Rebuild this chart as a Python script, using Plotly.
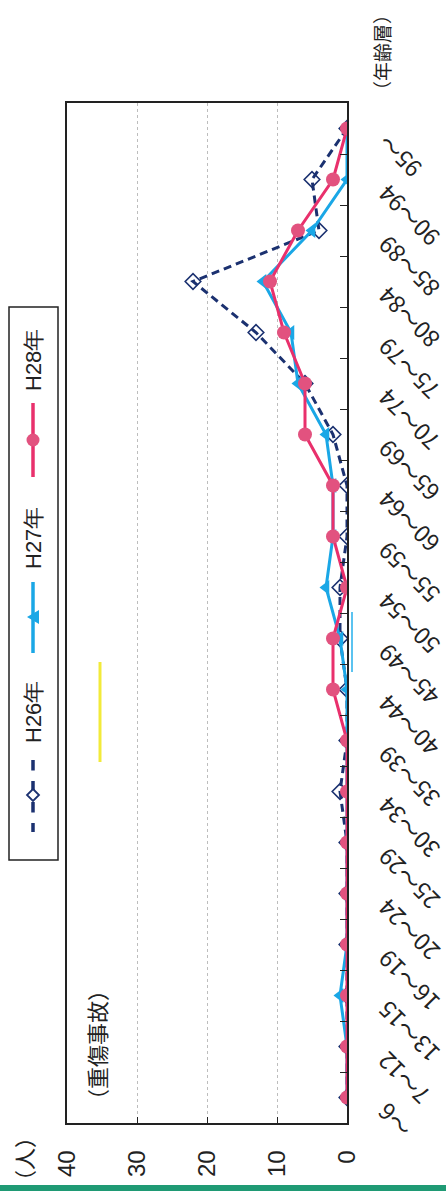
import plotly.graph_objects as go

# ---------------- data ----------------
categories = ["～6", "7～12", "13～15", "16～19", "20～24", "25～29", "30～34",
              "35～39", "40～44", "45～49", "50～54", "55～59", "60～64",
              "65～69", "70～74", "75～79", "80～84", "85～89", "90～94", "95～"]
h26 = [0, 0, 0, 0, 0, 0, 1, 0, 0, 1, 1, 0, 0, 2, 6, 13, 22, 4, 5, 0]
h27 = [0, 0, 1, 0, 0, 0, 0, 0, 0, 1, 3, 2, 2, 3, 7, 8, 12, 5, 0, 0]
h28 = [0, 0, 0, 0, 0, 0, 0, 0, 2, 2, 0, 2, 2, 6, 6, 9, 11, 7, 2, 0]
series_names = ["H26年", "H27年", "H28年"]
value_ticks = [0, 10, 20, 30, 40]

# ---------------- layout geometry ----------------
W, H = 446, 1191
L, R, T, B = 67, 347, 103, 1123   # plot area in px

def px(x):
    return (x - L) / (R - L)

def py(y):
    return (B - y) / (B - T)

NAVY = "#1B3170"
CYAN = "#1AA7E6"
PINK = "#E9306C"
PINK_M = "#E2527F"
JP = "Noto Sans CJK JP, Liberation Sans, sans-serif"
NUM = "Liberation Sans, Arial, sans-serif"

fig = go.Figure()
fig.add_trace(go.Scatter(
    x=h26, y=categories, mode="lines+markers", name=series_names[0],
    line=dict(color=NAVY, width=3, dash="8px,5px"),
    marker=dict(symbol="diamond-open", size=12, color=NAVY, line=dict(width=1.6, color=NAVY)),
    showlegend=False))
fig.add_trace(go.Scatter(
    x=h27, y=categories, mode="lines+markers", name=series_names[1],
    line=dict(color=CYAN, width=3),
    marker=dict(symbol="triangle-left", size=13, color=CYAN),
    showlegend=False))
fig.add_trace(go.Scatter(
    x=h28, y=categories, mode="lines+markers", name=series_names[2],
    line=dict(color=PINK, width=3),
    marker=dict(symbol="circle", size=14, color=PINK_M),
    showlegend=False))

annotations = []
shapes = []

# category labels (rotated, outside right axis)
for c in categories:
    annotations.append(dict(
        x=1, xref="paper", y=c, yref="y", text=c, showarrow=False,
        textangle=-135, xanchor="left", yanchor="top", xshift=20, yshift=4,
        font=dict(family=JP, size=23, color="#222")))

# unit labels
def label(x, y, text, size, family=JP):
    return dict(x=px(x), y=py(y), xref="paper", yref="paper", text=text,
                showarrow=False, textangle=-90, xanchor="center", yanchor="middle",
                font=dict(family=family, size=size, color="#222"))

annotations.append(label(23, 1159, "（人）", 22))
annotations.append(label(382, 53, "（年齢層）", 19))
annotations.append(label(96, 1045, "（重傷事故）", 22))

# manual legend (rotated)
shapes.append(dict(type="rect", xref="paper", yref="paper", x0=px(9), x1=px(58), y0=py(860), y1=py(307),
                   line=dict(color="#222", width=1.5), fillcolor="white"))
leg = [
    (series_names[2], 360, (403, 477), 440, PINK, "solid", "circle"),
    (series_names[1], 538, (582, 653), 617, CYAN, "solid", "tri"),
    (series_names[0], 712, (760, 832), 795, NAVY, "dash", "diamond"),
]
lx = 33
for name, ty, (ly0, ly1), my, col, dash, sym in leg:
    annotations.append(label(lx, ty, name, 22, NUM))
    shapes.append(dict(type="line", xref="paper", yref="paper", x0=px(lx), x1=px(lx),
                       y0=py(ly0), y1=py(ly1), line=dict(color=col, width=3.5, dash=dash)))
    if sym == "circle":
        r = 6.5
        shapes.append(dict(type="circle", xref="paper", yref="paper",
                           x0=px(lx - r), x1=px(lx + r), y0=py(my + r), y1=py(my - r),
                           fillcolor=PINK_M, line=dict(color=PINK_M, width=0)))
    elif sym == "tri":
        path = "M {} {} L {} {} L {} {} Z".format(px(lx + 6), py(my - 7), px(lx + 6), py(my + 7),
                                                    px(lx - 6), py(my))
        shapes.append(dict(type="path", xref="paper", yref="paper", path=path,
                           fillcolor=CYAN, line=dict(color=CYAN, width=0)))
    else:
        d = 6
        path = "M {} {} L {} {} L {} {} L {} {} Z".format(px(lx), py(my - d), px(lx + d), py(my),
                                                           px(lx), py(my + d), px(lx - d), py(my))
        shapes.append(dict(type="path", xref="paper", yref="paper", path=path,
                           fillcolor="white", line=dict(color=NAVY, width=1.8)))

# scan artifacts: yellow marker stroke, cyan stroke, green band
shapes.append(dict(type="line", xref="paper", yref="paper", x0=px(100), x1=px(100),
                   y0=py(662), y1=py(762), line=dict(color="#F2EA3A", width=3)))
shapes.append(dict(type="line", xref="paper", yref="paper", x0=px(352), x1=px(352),
                   y0=py(612), y1=py(672), line=dict(color="#5BC3F0", width=2)))
shapes.append(dict(type="rect", xref="paper", yref="paper", x0=px(0), x1=px(W),
                   y0=py(H), y1=py(1185), line=dict(width=0), fillcolor="#1F9A74"))

fig.update_layout(
    width=W, height=H,
    margin=dict(l=L, r=W - R, t=T, b=H - B),
    paper_bgcolor="white", plot_bgcolor="white",
    showlegend=False,
    annotations=annotations, shapes=shapes,
    xaxis=dict(range=[40, 0], tickvals=value_ticks, ticktext=[str(v) for v in value_ticks],
               tickangle=-90, ticks="inside", ticklen=6, tickcolor="#222",
               showgrid=True, gridcolor="#BDBDBD", griddash="dot", gridwidth=1,
               zeroline=False, showline=True, mirror=True, linecolor="#222", linewidth=1.5,
               ticklabelstandoff=16,
               tickfont=dict(family=NUM, size=24, color="#222")),
    yaxis=dict(type="category", categoryorder="array", categoryarray=categories,
               range=[-0.5, len(categories) - 0.5], side="right",
               showticklabels=False, ticks="inside", ticklen=7, tickcolor="#222",
               tickson="boundaries", showgrid=False, zeroline=False,
               showline=True, mirror=True, linecolor="#222", linewidth=1.5),
)

fig.write_html("out.html")
